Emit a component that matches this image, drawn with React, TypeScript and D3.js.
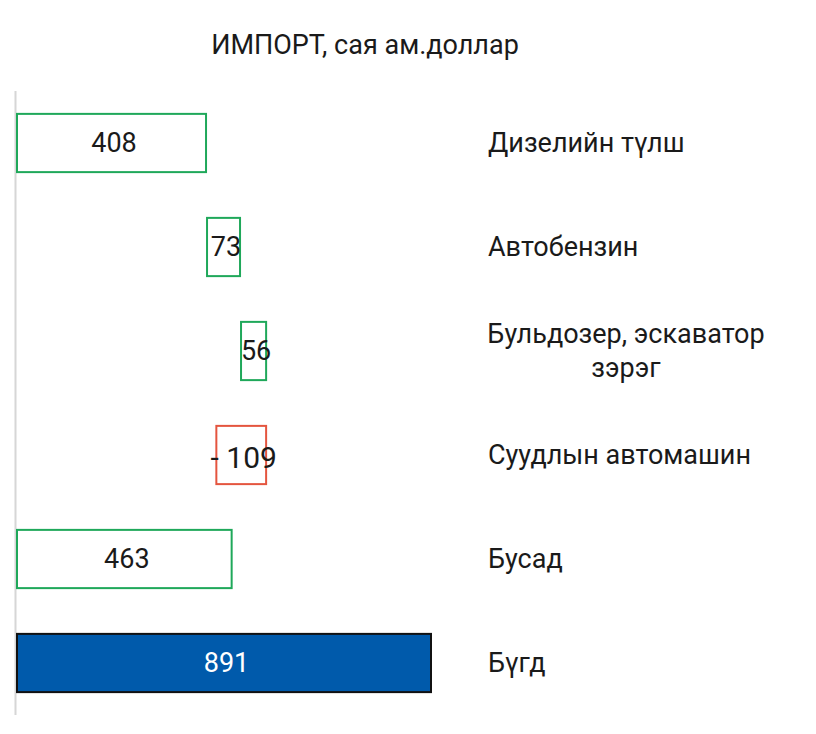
import React from 'react';
import * as d3 from 'd3';

// waterfall: import change by category, mln USD
const categories = ['Дизелийн түлш', 'Автобензин', 'Бульдозер, эскаватор зэрэг', 'Суудлын автомашин', 'Бусад', 'Бүгд'];
const labelLines = [['Дизелийн түлш'], ['Автобензин'], ['Бульдозер, эскаватор', 'зэрэг'], ['Суудлын автомашин'], ['Бусад'], ['Бүгд']];
const values = [408, 73, 56, -109, 463, 891];
const valueLabels = ['408', '73', '56', '- 109', '463', '891'];
// bars drawn from zero in the source chart
const fromZero = [true, false, false, false, true, true];
const isTotal = [false, false, false, false, false, true];

const W = 816;
const H = 734;
const FONT = 'Roboto, "Noto Sans", sans-serif';
const FS = 27;

const App: React.FC = () => {
  // running start/end of each step
  const steps = React.useMemo(() => {
    let acc = 0;
    return values.map((v, i) => {
      if (isTotal[i]) return { start: 0, end: v };
      const s = fromZero[i] ? 0 : acc;
      acc += v;
      return { start: s, end: s + v };
    });
  }, []);

  const x = d3.scaleLinear().domain([0, 891]).range([16, 431]);
  const y = d3.scaleBand<string>().domain(categories).range([91, 715]).paddingInner(0.44).paddingOuter(0.22);

  return (
    <svg width={W} height={H} style={{ position: 'absolute', left: 0, top: 0, background: '#fff' }} fontFamily={FONT}>
      <text x={365} y={45} textAnchor="middle" dominantBaseline="central" fontSize={FS} fill="#1a1a1a">
        ИМПОРТ, сая ам.доллар
      </text>
      <line x1={15.5} x2={15.5} y1={91} y2={715} stroke="#d6d6d6" strokeWidth={2} />
      {categories.map((c, i) => {
        const st = steps[i];
        const x0 = x(Math.min(st.start, st.end));
        const x1 = x(Math.max(st.start, st.end));
        const by = y(c) as number;
        const bh = y.bandwidth();
        const total = isTotal[i];
        const neg = values[i] < 0;
        const stroke = total ? '#111' : neg ? '#e4553f' : '#1fa85a';
        const cy = by + bh / 2;
        const lines = labelLines[i];
        return (
          <g key={c}>
            <rect
              x={x0 + 1}
              y={by}
              width={x1 - x0 - 1}
              height={bh}
              fill={total ? '#005aab' : '#fff'}
              stroke={stroke}
              strokeWidth={2}
            />
            <text
              x={(x0 + x1) / 2 + 3}
              y={neg ? cy + 2 : cy}
              textAnchor="middle"
              dominantBaseline="central"
              fontSize={neg ? 30 : FS}
              fill={total ? '#fff' : '#1a1a1a'}
            >
              {valueLabels[i]}
            </text>
            {lines.length === 1 ? (
              <text x={488} y={cy} dominantBaseline="central" fontSize={FS} fill="#1a1a1a">
                {lines[0]}
              </text>
            ) : (
              lines.map((l, k) => (
                <text
                  key={k}
                  x={626}
                  y={cy + (k - (lines.length - 1) / 2) * 34}
                  textAnchor="middle"
                  dominantBaseline="central"
                  fontSize={FS}
                  fill="#1a1a1a"
                >
                  {l}
                </text>
              ))
            )}
          </g>
        );
      })}
    </svg>
  );
};

export default App;
